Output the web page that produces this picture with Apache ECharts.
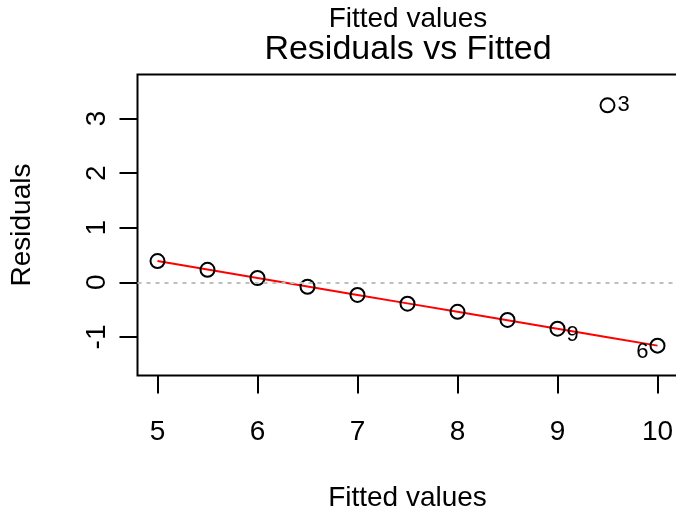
<!DOCTYPE html>
<html>
<head>
<meta charset="utf-8">
<script src="https://cdn.jsdelivr.net/npm/echarts@6/dist/echarts.min.js"></script>
<style>
  html, body { margin: 0; padding: 0; background: #fff; }
  #chart { width: 676px; height: 512px; }
</style>
</head>
<body>
<div id="chart"></div>
<script>
// Fitted values and residuals of the linear fit, in order of fitted value
const fittedValues = [5.0, 5.5, 6.0, 6.5, 7.0, 7.5, 8.0, 8.5, 9.0, 9.5, 10.0];
const residuals = [0.389, 0.229, 0.079, -0.081, -0.230, -0.390, -0.540, -0.689, -0.849, 3.241, -1.159];
// Observation numbers flagged next to the largest residuals
const pointIds = ['', '', '', '', '', '', '', '', '9', '3', '6'];
// Smoothed trend through the residuals
const smoothValues = [0.389, 0.234, 0.079, -0.076, -0.230, -0.385, -0.540, -0.695, -0.849, -1.004, -1.159];
// Axis ticks
const xTicks = [5, 6, 7, 8, 9, 10];
const yTicks = [-1, 0, 1, 2, 3];

const FONT = '"Liberation Sans", Arial, Helvetica, sans-serif';

const idLabelStyle = {
  '3': { position: 'right', distance: 2, offset: [0, 0] },
  '9': { position: 'right', distance: 1, offset: [0, 6] },
  '6': { position: 'left', distance: 1, offset: [0, 6] }
};

const scatterData = fittedValues.map((x, i) => {
  const item = { value: [x, residuals[i]] };
  const id = pointIds[i];
  if (id) {
    const s = idLabelStyle[id];
    item.label = {
      show: true,
      formatter: id,
      position: s.position,
      distance: s.distance,
      offset: s.offset,
      fontFamily: FONT,
      fontSize: 22,
      color: '#000'
    };
  }
  return item;
});

const smoothData = fittedValues.map((x, i) => [x, smoothValues[i]]);

const chart = echarts.init(document.getElementById('chart'), null, { renderer: 'canvas' });

chart.setOption({
  animation: false,
  backgroundColor: '#fff',
  title: [
    {
      text: 'Fitted values',
      left: 408,
      textAlign: 'center',
      top: 5,
      padding: 0,
      textStyle: { fontFamily: FONT, fontSize: 28, fontWeight: 'normal', color: '#000' }
    },
    {
      text: 'Residuals vs Fitted',
      left: 408,
      textAlign: 'center',
      top: 33,
      padding: 0,
      textStyle: { fontFamily: FONT, fontSize: 34, fontWeight: 'normal', color: '#000' }
    }
  ],
  grid: {
    left: 137.5,
    top: 74.5,
    width: 540,
    height: 301,
    outerBoundsMode: 'none',
    containLabel: false,
    show: true,
    borderColor: '#000',
    borderWidth: 2,
    backgroundColor: 'transparent'
  },
  xAxis: {
    type: 'value',
    min: 4.8,
    max: 10.2,
    name: 'Fitted values',
    nameLocation: 'middle',
    nameGap: 109,
    nameTextStyle: { fontFamily: FONT, fontSize: 28, color: '#000' },
    axisLine: { show: false, onZero: false },
    axisTick: {
      show: true,
      inside: false,
      length: 18,
      customValues: xTicks,
      lineStyle: { color: '#000', width: 2 }
    },
    axisLabel: {
      show: true,
      customValues: xTicks,
      margin: 43,
      fontFamily: FONT,
      fontSize: 28,
      color: '#000'
    },
    splitLine: { show: false }
  },
  yAxis: {
    type: 'value',
    min: -1.706,
    max: 3.806,
    name: 'Residuals',
    nameLocation: 'middle',
    nameGap: 101,
    nameRotate: 90,
    nameTextStyle: { fontFamily: FONT, fontSize: 28, color: '#000' },
    axisLine: { show: false, onZero: false },
    axisTick: {
      show: true,
      inside: false,
      length: 18,
      customValues: yTicks,
      lineStyle: { color: '#000', width: 2 }
    },
    axisLabel: {
      show: true,
      customValues: yTicks,
      rotate: 90,
      margin: 26,
      fontFamily: FONT,
      fontSize: 28,
      color: '#000'
    },
    splitLine: { show: false }
  },
  series: [
    {
      name: 'zero',
      type: 'line',
      data: [],
      markLine: {
        silent: true,
        symbol: 'none',
        label: { show: false },
        lineStyle: { color: '#bebebe', width: 2, type: [4, 5] },
        data: [{ yAxis: 0 }]
      }
    },
    {
      name: 'smooth',
      type: 'line',
      data: smoothData,
      showSymbol: false,
      symbol: 'none',
      lineStyle: { color: '#ff0000', width: 2 },
      z: 3
    },
    {
      name: 'residuals',
      type: 'scatter',
      data: scatterData,
      symbol: 'circle',
      symbolSize: 14,
      itemStyle: { color: 'rgba(0,0,0,0)', borderColor: '#000', borderWidth: 2, opacity: 1 },
      z: 4
    }
  ]
});
</script>
</body>
</html>
